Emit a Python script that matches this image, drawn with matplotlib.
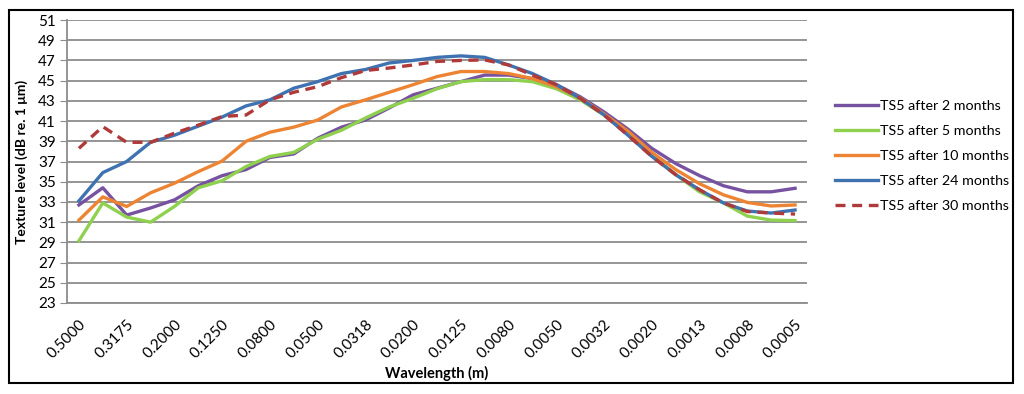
import numpy as np
import matplotlib
matplotlib.use('Agg')
from matplotlib import pyplot as plt
from matplotlib.patches import Rectangle

wavelengths = ['0.5000', '0.4000', '0.3175', '0.2500', '0.2000', '0.1600', '0.1250', '0.1000',
               '0.0800', '0.0630', '0.0500', '0.0400', '0.0318', '0.0250', '0.0200', '0.0160',
               '0.0125', '0.0100', '0.0080', '0.0063', '0.0050', '0.0040', '0.0032', '0.0025',
               '0.0020', '0.0016', '0.0013', '0.0010', '0.0008', '0.0006', '0.0005']

ts5_2m = [32.7, 34.4, 31.7, 32.4, 33.2, 34.6, 35.6, 36.2, 37.4, 37.75, 39.3, 40.4, 41.1, 42.3,
          43.6, 44.25, 44.9, 45.55, 45.55, 45.2, 44.6, 43.4, 41.9, 40.2, 38.3, 36.8, 35.6,
          34.6, 34.0, 34.0, 34.35]
ts5_5m = [29.15, 32.9, 31.5, 31.0, 32.55, 34.4, 35.1, 36.5, 37.5, 37.9, 39.2, 40.1, 41.3, 42.4,
          43.25, 44.2, 44.9, 45.1, 45.1, 44.9, 44.2, 43.1, 41.6, 39.7, 37.6, 35.7, 34.0,
          32.9, 31.6, 31.2, 31.15]
ts5_10m = [31.2, 33.5, 32.55, 33.9, 34.85, 36.0, 37.05, 39.0, 39.9, 40.4, 41.1, 42.4, 43.1, 43.85,
           44.6, 45.4, 45.9, 45.9, 45.7, 45.2, 44.4, 43.3, 41.7, 40.0, 37.9, 36.2, 34.8,
           33.7, 32.95, 32.6, 32.7]
ts5_24m = [33.1, 35.9, 37.0, 38.9, 39.6, 40.5, 41.4, 42.5, 43.1, 44.25, 44.9, 45.7, 46.1, 46.75,
           47.0, 47.3, 47.45, 47.3, 46.55, 45.7, 44.6, 43.25, 41.6, 39.6, 37.5, 35.7, 34.2,
           32.9, 32.1, 31.9, 32.2]
ts5_30m = [38.3, 40.45, 38.9, 38.9, 39.8, 40.6, 41.45, 41.6, 43.1, 43.85, 44.4, 45.3, 46.0, 46.25,
           46.55, 46.9, 47.0, 47.05, 46.55, 45.55, 44.6, 43.25, 41.6, 39.6, 37.5, 35.7, 34.2,
           32.9, 32.05, 31.9, 31.8]

plt.rcParams['font.family'] = ['Lato', 'DejaVu Sans']

fig = plt.figure(figsize=(10.24, 3.94), dpi=100)
ax = fig.add_axes([67 / 1024, 1 - 303 / 394, 740 / 1024, 283 / 394])

x = np.arange(len(wavelengths))
lw = 2.4
ax.plot(x, ts5_2m, color='#7652A0', lw=lw, solid_joinstyle='round', label='TS5 after 2 months')
ax.plot(x, ts5_5m, color='#8FD14F', lw=lw, solid_joinstyle='round', label='TS5 after 5 months')
ax.plot(x, ts5_10m, color='#EC8433', lw=lw, solid_joinstyle='round', label='TS5 after 10 months')
ax.plot(x, ts5_24m, color='#3E72B0', lw=lw, solid_joinstyle='round', label='TS5 after 24 months')
ax.plot(x, ts5_30m, color='#B03A3A', lw=lw, ls=(0, (3, 2)), label='TS5 after 30 months')

ax.set_xlim(-0.5, len(wavelengths) - 0.5)
ax.set_ylim(23, 51)
ax.set_yticks(np.arange(23, 52, 2))
ax.yaxis.grid(True, color='#8C8C8C', lw=1.3)
ax.set_axisbelow(True)
ax.tick_params(axis='y', length=5, color='#8C8C8C', labelsize=11, pad=3)

ax.set_xticks(x[::2])
ax.set_xticklabels(wavelengths[::2], rotation=45, ha='right', rotation_mode='anchor', fontsize=11)
ax.tick_params(axis='x', length=0, pad=10)

for s in ['top', 'right']:
    ax.spines[s].set_visible(False)
for s in ['left', 'bottom']:
    ax.spines[s].set_color('#8C8C8C')
    ax.spines[s].set_linewidth(1.3)

ax.set_ylabel('Texture level (dB re. 1 μm)', fontsize=10, fontweight='bold', labelpad=7)
ax.set_xlabel('Wavelength (m)', fontsize=10.5, fontweight='bold', labelpad=4)

ax.legend(loc='center left', bbox_to_anchor=(1.02, 0.52), frameon=False, fontsize=10.3,
          handlelength=3.0, handletextpad=0.2, labelspacing=0.9)

fig.patches.append(Rectangle((9 / 1024, 1 - 383 / 394), 1004 / 1024, 373 / 394,
                             transform=fig.transFigure, fill=False, edgecolor='black', lw=1.5))

fig.savefig('out.png', dpi=100)
